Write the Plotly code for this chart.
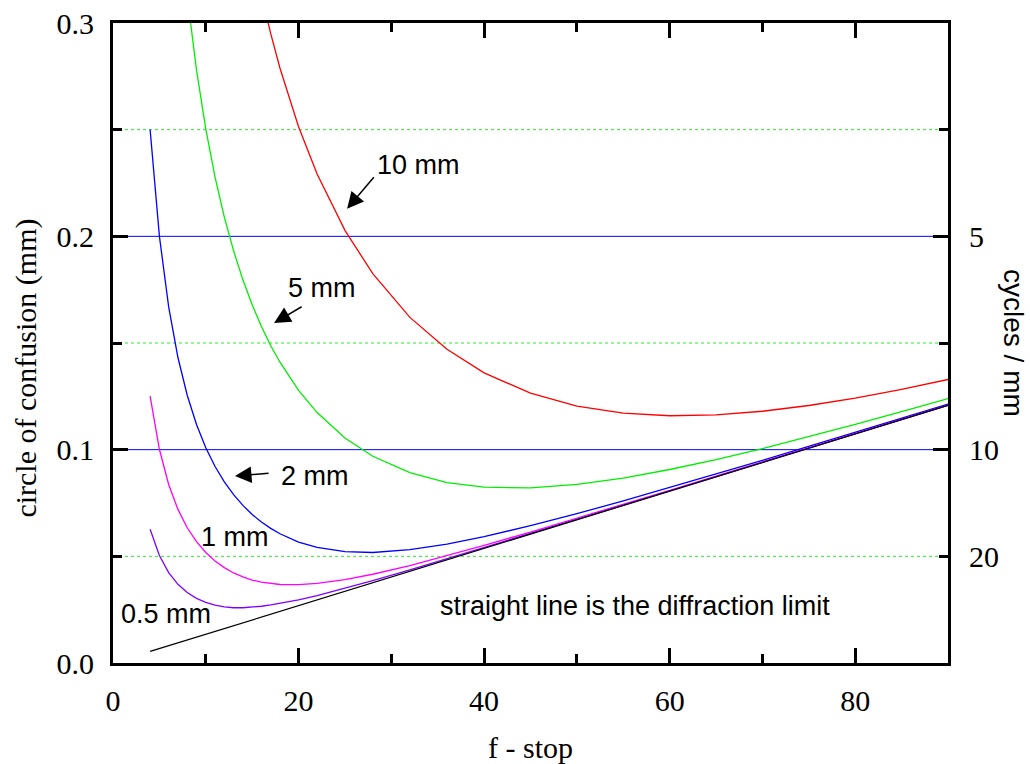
import plotly.graph_objects as go

# f-stop sample points
f_stop = [4, 5, 6, 7, 8, 9, 10, 11, 12, 13, 14, 15, 16, 17, 18, 20, 22, 25, 28, 32, 36, 40,
          45, 50, 55, 60, 65, 70, 75, 80, 85, 90]

# circle of confusion (mm), per depth of field
coc_10mm = [1.25, 1.0, 0.833, 0.714, 0.625, 0.556, 0.5, 0.4545, 0.4167, 0.3849, 0.3576,
            0.3339, 0.3132, 0.2950, 0.2788, 0.2514, 0.2292, 0.2028, 0.1825, 0.1620,
            0.1471, 0.1360, 0.1265, 0.1204, 0.1171, 0.1159, 0.1163, 0.1180, 0.1207,
            0.1242, 0.1283, 0.1329]
coc_5mm = [0.625, 0.5, 0.4167, 0.357, 0.3127, 0.2780, 0.2504, 0.2278, 0.2090, 0.1932,
           0.1796, 0.1679, 0.1577, 0.1487, 0.1410, 0.1278, 0.1174, 0.1055, 0.0969,
           0.0892, 0.0846, 0.0824, 0.0821, 0.0837, 0.0867, 0.0907, 0.0953, 0.1005,
           0.1060, 0.1118, 0.1178, 0.1239]
coc_2mm = [0.2501, 0.2001, 0.1669, 0.1432, 0.1255, 0.1118, 0.1009, 0.0921, 0.0849, 0.0789,
           0.0739, 0.0696, 0.0661, 0.0631, 0.0606, 0.0567, 0.0542, 0.0522, 0.0518,
           0.0531, 0.0557, 0.0592, 0.0644, 0.0700, 0.0760, 0.0822, 0.0886, 0.0950,
           0.1015, 0.1081, 0.1147, 0.1213]
coc_1mm = [0.1251, 0.1002, 0.0837, 0.0720, 0.0634, 0.0569, 0.0518, 0.0478, 0.0447, 0.0422,
           0.0404, 0.0389, 0.0379, 0.0372, 0.0368, 0.0367, 0.0373, 0.0391, 0.0416,
           0.0457, 0.0503, 0.0551, 0.0614, 0.0678, 0.0744, 0.0809, 0.0876, 0.0942,
           0.1009, 0.1075, 0.1142, 0.1209]
coc_05mm = [0.0627, 0.0504, 0.0424, 0.0369, 0.0330, 0.0303, 0.0284, 0.0271, 0.0263, 0.0259,
            0.0259, 0.0261, 0.0266, 0.0272, 0.0279, 0.0296, 0.0316, 0.0350, 0.0386,
            0.0436, 0.0488, 0.0540, 0.0606, 0.0673, 0.0740, 0.0806, 0.0873, 0.0940,
            0.1007, 0.1074, 0.1141, 0.1208]

# diffraction limit (straight line)
diff_fstop = [4, 90]
diff_coc = [0.0054, 0.1208]

# reference levels (mm) and their cycles/mm labels
solid_levels = [0.2, 0.1]
dotted_levels = [0.25, 0.15, 0.05]
cycles_vals = [0.2, 0.1, 0.05]
cycles_text = ["5", "10", "20"]

series = [
    (coc_10mm, "#ff0000", "10 mm"),
    (coc_5mm, "#00ee00", "5 mm"),
    (coc_2mm, "#0000ff", "2 mm"),
    (coc_1mm, "#ff00ff", "1 mm"),
    (coc_05mm, "#8000ff", "0.5 mm"),
]

fig = go.Figure()
for lv in solid_levels:
    fig.add_trace(go.Scatter(x=[0, 90], y=[lv, lv], mode="lines", hoverinfo="skip",
                             line=dict(color="#0000ff", width=1)))
for lv in dotted_levels:
    fig.add_trace(go.Scatter(x=[0, 90], y=[lv, lv], mode="lines", hoverinfo="skip",
                             line=dict(color="#22ee22", width=1, dash="dot")))
for ys, col, name in series:
    fig.add_trace(go.Scatter(x=f_stop, y=ys, mode="lines", name=name,
                             line=dict(color=col, width=1.3)))
fig.add_trace(go.Scatter(x=diff_fstop, y=diff_coc, mode="lines", name="diffraction",
                         line=dict(color="black", width=1.3)))
# invisible trace to activate right axis
fig.add_trace(go.Scatter(x=[0, 90], y=[0, 0.3], yaxis="y2", mode="lines",
                         line=dict(width=0), hoverinfo="skip", showlegend=False,
                         opacity=0))

serif = "Liberation Serif, Times New Roman, serif"
sans = "Liberation Sans, Arial, sans-serif"

fig.update_layout(
    width=1030, height=764,
    margin=dict(l=113, r=82, t=23, b=101, autoexpand=False),
    paper_bgcolor="white", plot_bgcolor="white",
    showlegend=False,
    xaxis=dict(range=[0, 90], dtick=20, showgrid=False, zeroline=False, automargin=False,
               showline=True, linecolor="black", linewidth=3, mirror="ticks",
               ticks="inside", ticklen=15, tickwidth=3, tickcolor="black",
               minor=dict(dtick=10, ticks="inside", ticklen=9, tickwidth=3, tickcolor="black"),
               tickfont=dict(family=serif, size=30, color="black"),
               ticklabelstandoff=9),
    yaxis=dict(range=[0, 0.3], dtick=0.1, tickformat=".1f", showgrid=False, automargin=False,
               zeroline=False, showline=True, linecolor="black", linewidth=3,
               mirror="ticks", ticks="inside", ticklen=15, tickwidth=3, tickcolor="black",
               minor=dict(dtick=0.05, ticks="inside", ticklen=9, tickwidth=3, tickcolor="black"),
               tickfont=dict(family=serif, size=30, color="black"),
               ticklabelstandoff=10),
    yaxis2=dict(range=[0, 0.3], overlaying="y", side="right", tickvals=cycles_vals,
                automargin=False,
                ticktext=cycles_text, ticks="", showgrid=False, zeroline=False,
                showline=False, ticklabelstandoff=20,
                tickfont=dict(family=serif, size=30, color="black")),
)

# axis titles
fig.add_annotation(xref="paper", yref="paper", x=0.5, y=0, yshift=-84,
                   text="f - stop", showarrow=False,
                   font=dict(family=serif, size=30, color="black"),
                   xanchor="center", yanchor="middle")
fig.add_annotation(xref="paper", yref="paper", x=0, y=0.46, xshift=-87,
                   text="circle of confusion (mm)", textangle=-90, showarrow=False,
                   font=dict(family=serif, size=30, color="black"),
                   xanchor="center", yanchor="middle")
fig.add_annotation(xref="paper", yref="paper", x=1.0, y=0.5, xshift=66,
                   text="cycles / mm", textangle=90, showarrow=False,
                   font=dict(family=sans, size=28, color="black"),
                   xanchor="center", yanchor="middle")

afont = dict(family=sans, size=27, color="black")
labels = [
    ("10 mm", 32.9, 0.2336),
    ("5 mm", 22.5, 0.1758),
    ("2 mm", 21.8, 0.0876),
    ("1 mm", 13.15, 0.0589),
    ("0.5 mm", 5.71, 0.0228),
    ("straight line is the diffraction limit", 56.3, 0.0265),
]
for t, x, y in labels:
    fig.add_annotation(x=x, y=y, text=t, showarrow=False, font=afont,
                       xanchor="center", yanchor="middle")

arrows = [
    ((28.25, 0.2284), (25.23, 0.2129)),
    ((20.49, 0.1674), (17.36, 0.1594)),
    ((16.93, 0.0890), (13.15, 0.0876)),
]
for (tx, ty), (hx, hy) in arrows:
    fig.add_annotation(x=hx, y=hy, ax=tx, ay=ty, axref="x", ayref="y",
                       text="", showarrow=True, arrowhead=2, arrowsize=2.2,
                       arrowwidth=1.5, arrowcolor="black")

fig.write_html("out.html", config={"displayModeBar": False},
               post_script="document.body.style.margin='0';")
